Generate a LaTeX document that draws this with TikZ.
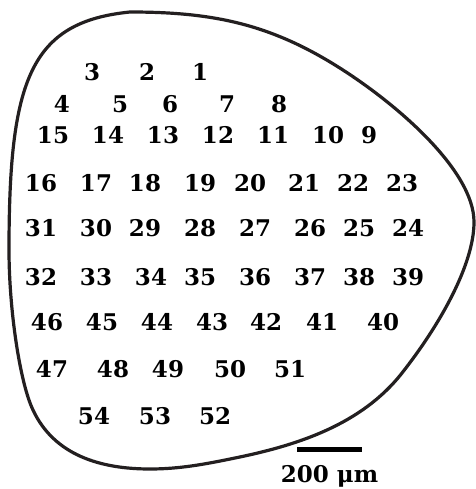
\documentclass[tikz,border=0pt]{standalone}
\usepackage{fontspec}
\setmainfont{DejaVu Serif}
\usepackage{tikz}
\usetikzlibrary{positioning}

\begin{document}
\begin{tikzpicture}[
    x=1pt,y=-1pt,
    site/.style={font=\bfseries\fontsize{23}{23}\selectfont,inner sep=0pt,text=black},
    outline/.style={line width=3.2pt,draw={rgb,255:red,35;green,31;blue,32},line join=round},
    bar/.style={line width=5pt,black}
]
\useasboundingbox (0,0) rectangle (475,489);
% section outline
\draw[outline] (9,250) .. controls (9,80) and (30,22) .. (130,12)
  .. controls (210,12) and (267,23) .. (335,65)
  .. controls (395,102) and (474,170) .. (474,222)
  .. controls (474,265) and (439,326) .. (402,373)
  .. controls (362,424) and (299,445) .. (235,458)
  .. controls (206,464) and (180,469) .. (150,469)
  .. controls (100,469) and (54,455) .. (33,410)
  .. controls (20,383) and (9,310) .. cycle;
% recording sites
\foreach \n/\x/\y in {
  3/92/72, 2/147/72, 1/200/72,
  4/62/104, 5/120/104, 6/170/104, 7/227/104, 8/279/104,
  15/53/135, 14/108/135, 13/163/135, 12/218/135, 11/273/135, 10/328/135, 9/369/135,
  16/41/183, 17/96/183, 18/145/183, 19/200/183, 20/250/183, 21/304/183, 22/353/183, 23/402/183,
  31/41/228, 30/96/228, 29/145/228, 28/200/228, 27/255/228, 26/310/228, 25/359/228, 24/408/228,
  32/41/277, 33/96/277, 34/151/277, 35/200/277, 36/255/277, 37/310/277, 38/359/277, 39/408/277,
  46/47/322, 45/102/322, 44/157/322, 43/212/322, 42/266/322, 41/322/322, 40/383/322,
  47/52/369, 48/113/369, 49/168/369, 50/230/369, 51/290/369,
  54/94/416, 53/155/416, 52/215/416}
  \node[site] (s\n) at (\x,\y) {\n};
% scale bar
\coordinate (barL) at (297,449);
\coordinate (barR) at (362,449);
\coordinate (barM) at (329.5,449);
\draw[bar] (barL) -- (barR);
\node[site,below=16pt of barM] (barlabel) {200 μm};
\end{tikzpicture}
\end{document}
